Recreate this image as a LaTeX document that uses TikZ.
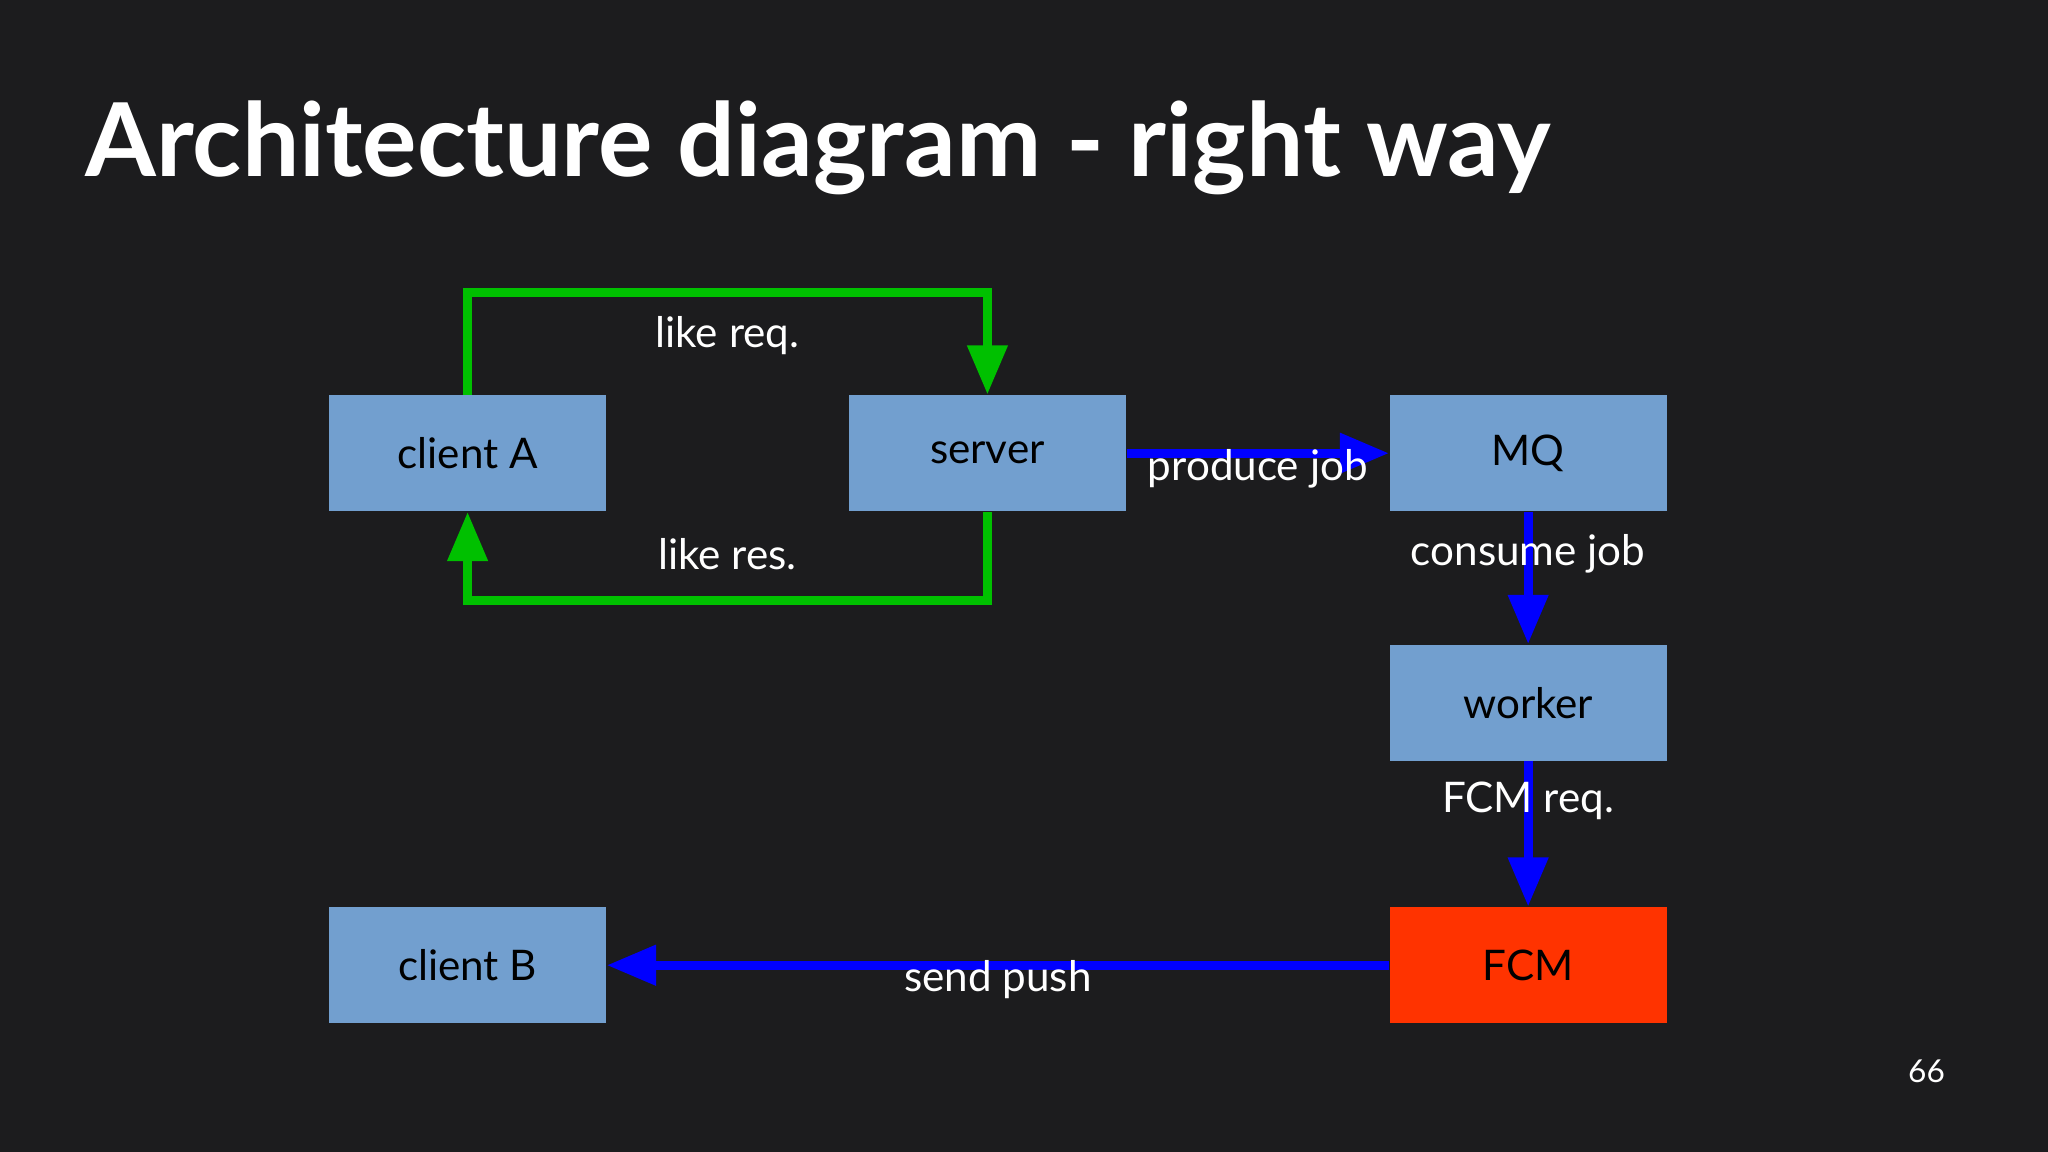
\documentclass[tikz,border=0pt]{standalone}
\usepackage{fontspec}
\setmainfont{Lato}
\usetikzlibrary{arrows.meta}
\definecolor{bgdark}{HTML}{1C1C1E}
\definecolor{boxblue}{HTML}{729FCF}
\definecolor{fcmred}{HTML}{FF3300}
\definecolor{linkgreen}{HTML}{00C000}
\begin{document}
\begin{tikzpicture}[
                x=0.01306cm, y=-0.01306cm,
                box/.style={fill=boxblue, minimum width=2.77cm, minimum height=1.16cm,
                    inner sep=0pt, font=\fontsize{12}{14}\selectfont},
                lbl/.style={text=white, font=\fontsize{12}{14}\selectfont},
                green link/.style={linkgreen, line width=2.5pt, -{Triangle[length=14pt, width=11pt]}},
                blue link/.style={blue, line width=2.5pt, -{Triangle[length=14pt, width=11pt]}} ]

            \fill[bgdark] (0,0) rectangle (1568,882);

            \node[anchor=base west, text=white, font=\fontsize{29}{32}\selectfont\bfseries]
                (title) at (56,135) {Architecture diagram - right way};

            \node[box] (clientA) at (358,347) {client A};
            \node[box] (server) at (756,347) {server};
            \node[box] (mq) at (1170,347) {MQ};
            \node[box] (worker) at (1170,538) {worker};
            \node[box, fill=fcmred] (fcm) at (1170,739) {FCM};
            \node[box] (clientB) at (358,739) {client B};

            \draw[green link] (clientA.north) -- ++(0,-78) -| (server.north);
            \draw[green link] (server.south) -- ++(0,68) -| (clientA.south);

            \draw[blue link] (server.east) -- (mq.west);
            \draw[blue link] (mq.south) -- (worker.north);
            \draw[blue link] (worker.south) -- (fcm.north);
            \draw[blue link] (fcm.west) -- (clientB.east);

            \node[lbl] (likereq) at (557,257) {like req.};
            \node[lbl] (likeres) at (557,424) {like res.};
            \node[lbl] (produce) at (963,359) {produce job};
            \node[lbl] (consume) at (1170,424) {consume job};
            \node[lbl] (fcmreq) at (1170,613) {FCM req.};
            \node[lbl] (push) at (764,750) {send push};
            \node[text=white, font=\fontsize{9}{11}\selectfont] (page) at (1475,820) {66};

        \end{tikzpicture}
\end{document}
